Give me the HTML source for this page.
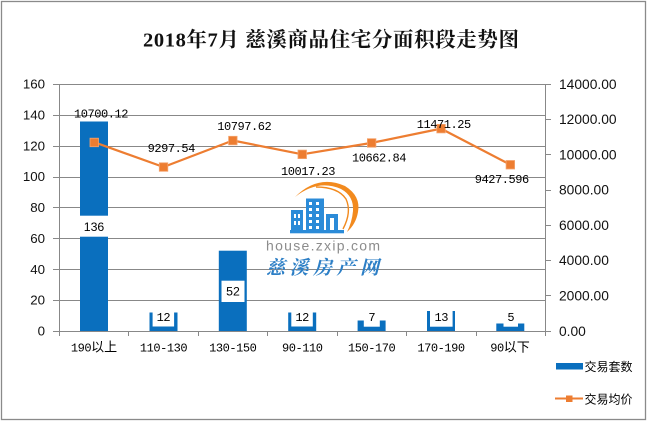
<!DOCTYPE html>
<html><head><meta charset="utf-8"><style>
html,body{margin:0;padding:0;background:#fff;}
svg{display:block;}
.mono{font-family:"Liberation Mono","Noto Sans CJK SC",monospace;font-size:12px;letter-spacing:-0.45px;fill:#000;}
.ax{font-family:"Liberation Sans","Noto Sans CJK SC",sans-serif;font-size:13.3px;fill:#111;}
.cjk{font-family:"Liberation Sans","Noto Sans CJK SC",sans-serif;}
</style></head><body>
<svg width="648" height="421" viewBox="0 0 648 421" xmlns="http://www.w3.org/2000/svg">
<rect x="0" y="0" width="648" height="421" fill="#fff"/>
<rect x="1.5" y="1.5" width="644" height="418" fill="none" stroke="#8a8a8a" stroke-width="1.3"/>

<!-- title -->
<text x="143" y="46.5" textLength="376" lengthAdjust="spacing" style="font-family:'Liberation Serif','Noto Serif CJK SC',serif;font-size:20.5px;font-weight:bold;fill:#111;">2018年7月 慈溪商品住宅分面积段走势图</text>

<!-- gridlines -->
<g stroke="#888" stroke-width="1" shape-rendering="crispEdges">
<line x1="53" y1="84.5" x2="545" y2="84.5"/>
<line x1="53" y1="115.5" x2="545" y2="115.5"/>
<line x1="53" y1="146.5" x2="545" y2="146.5"/>
<line x1="53" y1="177.5" x2="545" y2="177.5"/>
<line x1="53" y1="207.5" x2="545" y2="207.5"/>
<line x1="53" y1="238.5" x2="545" y2="238.5"/>
<line x1="53" y1="269.5" x2="545" y2="269.5"/>
<line x1="53" y1="300.5" x2="545" y2="300.5"/>
<line x1="53" y1="331.5" x2="545" y2="331.5"/>
<line x1="59.5" y1="84" x2="59.5" y2="331"/>
<line x1="545.5" y1="84" x2="545.5" y2="336"/>
<!-- category ticks -->
<line x1="59.5" y1="331" x2="59.5" y2="336"/>
<line x1="128.5" y1="331" x2="128.5" y2="336"/>
<line x1="198.5" y1="331" x2="198.5" y2="336"/>
<line x1="267.5" y1="331" x2="267.5" y2="336"/>
<line x1="337.5" y1="331" x2="337.5" y2="336"/>
<line x1="406.5" y1="331" x2="406.5" y2="336"/>
<line x1="476.5" y1="331" x2="476.5" y2="336"/>
<!-- right ticks -->
<line x1="545" y1="84.5" x2="551" y2="84.5"/>
<line x1="545" y1="119.5" x2="551" y2="119.5"/>
<line x1="545" y1="154.5" x2="551" y2="154.5"/>
<line x1="545" y1="190.5" x2="551" y2="190.5"/>
<line x1="545" y1="225.5" x2="551" y2="225.5"/>
<line x1="545" y1="260.5" x2="551" y2="260.5"/>
<line x1="545" y1="295.5" x2="551" y2="295.5"/>
<line x1="545" y1="331.5" x2="551" y2="331.5"/>
</g>

<!-- left axis labels -->
<g class="ax" text-anchor="end">
<text x="45" y="88.5">160</text>
<text x="45" y="119.4">140</text>
<text x="45" y="150.3">120</text>
<text x="45" y="181.1">100</text>
<text x="45" y="212">80</text>
<text x="45" y="242.9">60</text>
<text x="45" y="273.8">40</text>
<text x="45" y="304.6">20</text>
<text x="45" y="335.5">0</text>
</g>
<!-- right axis labels -->
<g class="ax" style="font-size:13.8px">
<text x="559" y="88.8">14000.00</text>
<text x="559" y="124.1">12000.00</text>
<text x="559" y="159.4">10000.00</text>
<text x="559" y="194.7">8000.00</text>
<text x="559" y="229.9">6000.00</text>
<text x="559" y="265.2">4000.00</text>
<text x="559" y="300.5">2000.00</text>
<text x="559" y="335.8">0.00</text>
</g>

<!-- category labels -->
<g class="mono" text-anchor="middle">
<text x="94" y="351.7">190<tspan class="cjk" style="font-size:13px;letter-spacing:0">以上</tspan></text>
<text x="163.5" y="351.7">110-130</text>
<text x="232.8" y="351.7">130-150</text>
<text x="302.2" y="351.7">90-110</text>
<text x="371.6" y="351.7">150-170</text>
<text x="441" y="351.7">170-190</text>
<text x="510" y="351.7">90<tspan class="cjk" style="font-size:13px;letter-spacing:0">以下</tspan></text>
</g>

<!-- bars -->
<g fill="#0a6fbe">
<rect x="80" y="121.5" width="28" height="209.5"/>
<rect x="149.5" y="312.5" width="28" height="18.5"/>
<rect x="218.8" y="250.7" width="28" height="80.3"/>
<rect x="288.2" y="312.5" width="28" height="18.5"/>
<rect x="357.6" y="320.5" width="28" height="10.5"/>
<rect x="427" y="311" width="28" height="20"/>
<rect x="496.3" y="323.5" width="28" height="7.5"/>
</g>
<!-- bar label boxes -->
<g fill="#fff">
<rect x="79" y="215.7" width="30" height="21"/>
<rect x="152.6" y="305" width="21.5" height="21.5"/>
<rect x="221.5" y="280.7" width="23" height="21.3"/>
<rect x="291.3" y="305" width="21.5" height="21.5"/>
<rect x="363.8" y="305" width="16" height="21.7"/>
<rect x="430" y="305" width="22.6" height="21.7"/>
<rect x="503.5" y="305" width="14.5" height="21.7"/>
</g>
<g text-anchor="middle">
<text x="94" y="230.8" class="ax" style="font-size:12.3px;fill:#000">136</text>
<text x="233" y="295.5" class="ax" style="font-size:12.3px;fill:#000">52</text>
<text x="163.4" y="320.9" class="mono">12</text>
<text x="302.1" y="320.9" class="mono">12</text>
<text x="371.8" y="320.9" class="mono">7</text>
<text x="441.3" y="320.9" class="mono">13</text>
<text x="510.8" y="320.9" class="mono">5</text>
</g>

<!-- watermark -->
<g>
<path d="M295,197 Q318,174 345,186 Q361,196 358,212 Q356,224 347,232 Q352,222 353,211 Q354,196 341,189 Q318,179 295,197 Z" fill="#f28a1e"/>
<path d="M316,187 Q338,187 346,199 Q352,212 343,229" fill="none" stroke="#f28a1e" stroke-width="1.4"/>
<g fill="#2b8bd8">
<rect x="291" y="210" width="12" height="21"/>
<rect x="306" y="198.5" width="18" height="32.5"/>
<rect x="326" y="214" width="12" height="17"/>
<rect x="290" y="230" width="54" height="3.3"/>
</g>
<g fill="#fff">
<rect x="294" y="214" width="2" height="4"/><rect x="298" y="214" width="2" height="4"/>
<rect x="294" y="221" width="2" height="4"/><rect x="298" y="221" width="2" height="4"/>
<rect x="309" y="202" width="3" height="3"/><rect x="316" y="202" width="3" height="3"/>
<rect x="309" y="208" width="3" height="3"/><rect x="316" y="208" width="3" height="3"/>
<rect x="309" y="214" width="3" height="3"/><rect x="316" y="214" width="3" height="3"/>
<rect x="309" y="220" width="3" height="3"/><rect x="316" y="220" width="3" height="3"/>
<rect x="309" y="226" width="3" height="3"/><rect x="316" y="226" width="3" height="3"/>
<rect x="330" y="218" width="4" height="12"/>
</g>
<text x="266" y="250.5" textLength="114" lengthAdjust="spacing" style="font-family:'Liberation Sans',sans-serif;font-size:14px;fill:#8c8c8c;">house.zxip.com</text>
<text x="266" y="274" textLength="113" lengthAdjust="spacing" style="font-family:'Liberation Serif','Noto Serif CJK SC',serif;font-size:19px;font-weight:bold;font-style:italic;fill:#2d7fc6;">慈溪房产网</text>
</g>

<!-- line -->
<polyline points="94.1,142.2 163.5,167 232.8,140.5 302.2,154.3 371.6,142.9 441,128.6 510.3,164.7" fill="none" stroke="#ed7d31" stroke-width="2.25" stroke-linejoin="round"/>
<g fill="#ed7d31" stroke="#f4a46e" stroke-width="0.8">
<rect x="90" y="138.2" width="8.5" height="8.5"/>
<rect x="159.3" y="162.8" width="8.5" height="8.5"/>
<rect x="228.6" y="136.3" width="8.5" height="8.5"/>
<rect x="298" y="150.1" width="8.5" height="8.5"/>
<rect x="367.4" y="138.7" width="8.5" height="8.5"/>
<rect x="436.8" y="124.4" width="8.5" height="8.5"/>
<rect x="506.1" y="160.5" width="8.5" height="8.5"/>
</g>
<g class="mono" text-anchor="middle">
<text x="101" y="117.5">10700.12</text>
<text x="171.3" y="151.8">9297.54</text>
<text x="244.3" y="130.1">10797.62</text>
<text x="308" y="175.1">10017.23</text>
<text x="379" y="161.4">10662.84</text>
<text x="443.7" y="128.1">11471.25</text>
<text x="501.8" y="183.1">9427.596</text>
</g>

<!-- legend -->
<rect x="556" y="363" width="27" height="6.5" fill="#0a6fbe"/>
<text x="584.5" y="371" class="cjk" style="font-size:12px;fill:#000">交易套数</text>
<line x1="555" y1="398.5" x2="583" y2="398.5" stroke="#ed7d31" stroke-width="2"/>
<rect x="566" y="395.5" width="6.5" height="6.5" fill="#ed7d31"/>
<text x="584.5" y="403.5" class="cjk" style="font-size:12px;fill:#000">交易均价</text>
</svg>
</body></html>
